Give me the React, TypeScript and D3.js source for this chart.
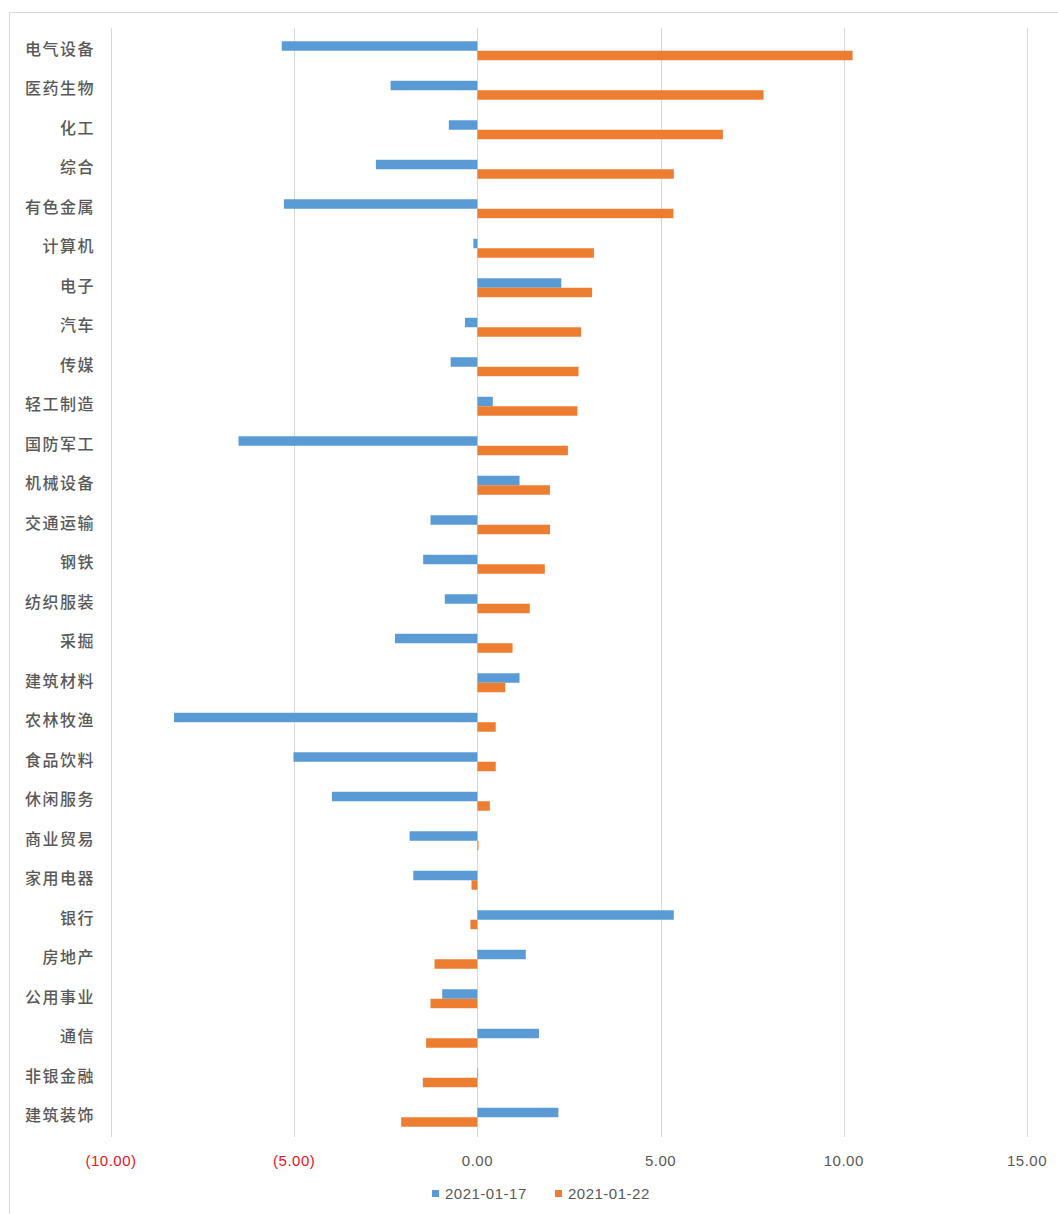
import React, { useEffect, useRef } from "react";
import * as d3 from "d3";

const categories = [
  "电气设备", "医药生物", "化工", "综合", "有色金属", "计算机", "电子", "汽车", "传媒", "轻工制造",
  "国防军工", "机械设备", "交通运输", "钢铁", "纺织服装", "采掘", "建筑材料", "农林牧渔", "食品饮料", "休闲服务",
  "商业贸易", "家用电器", "银行", "房地产", "公用事业", "通信", "非银金融", "建筑装饰",
];

const series1Name = "2021-01-17";
const series2Name = "2021-01-22";

const series1 = [
  -5.34, -2.37, -0.78, -2.77, -5.28, -0.11, 2.29, -0.34, -0.73, 0.42,
  -6.52, 1.15, -1.28, -1.48, -0.89, -2.25, 1.15, -8.28, -5.02, -3.97,
  -1.85, -1.75, 5.36, 1.32, -0.96, 1.68, 0.02, 2.21,
];

const series2 = [
  10.24, 7.81, 6.70, 5.36, 5.35, 3.18, 3.13, 2.83, 2.76, 2.73,
  2.47, 1.98, 1.98, 1.84, 1.43, 0.96, 0.76, 0.50, 0.50, 0.34,
  0.03, -0.16, -0.19, -1.17, -1.28, -1.40, -1.49, -2.08,
];

const tickValues = [-10, -5, 0, 5, 10, 15];

const W = 1058;
const H = 1214;

export default function App() {
  const ref = useRef<SVGSVGElement>(null);

  useEffect(() => {
    const svg = d3.select(ref.current);
    svg.selectAll("*").remove();

    const x = d3.scaleLinear().domain([-10, 15]).range([111, 1027]);
    const y = d3.scaleBand<string>().domain(categories).range([31, 1137]).paddingInner(0.52).paddingOuter(0.26);
    const sub = d3.scaleBand<string>().domain(["a", "b"]).range([0, y.bandwidth()]);

    // outer border
    svg.append("rect")
      .attr("x", 9.5).attr("y", 12.5).attr("width", W).attr("height", H)
      .attr("fill", "#fff").attr("stroke", "#D9D9D9").attr("stroke-width", 1);

    // gridlines
    svg.append("g").selectAll("line").data(tickValues).join("line")
      .attr("x1", (d) => Math.round(x(d)) + 0.5).attr("x2", (d) => Math.round(x(d)) + 0.5)
      .attr("y1", 28).attr("y2", 1137)
      .attr("stroke", "#D9D9D9").attr("stroke-width", 1);

    const colors = ["#5B9BD5", "#ED7D31"];
    const data = [series1, series2];
    data.forEach((vals, si) => {
      svg.append("g").selectAll("rect").data(vals).join("rect")
        .attr("x", (d) => x(Math.min(0, d)))
        .attr("width", (d) => Math.abs(x(d) - x(0)))
        .attr("y", (_d, i) => (y(categories[i]) as number) + (sub(si === 0 ? "a" : "b") as number))
        .attr("height", sub.bandwidth())
        .attr("fill", colors[si]);
    });

    // category labels
    svg.append("g").selectAll("text").data(categories).join("text")
      .attr("x", 95)
      .attr("y", (d) => (y(d) as number) + y.bandwidth() / 2 - 3)
      .attr("text-anchor", "end")
      .attr("dominant-baseline", "central")
      .attr("font-family", "'Noto Sans CJK SC', sans-serif")
      .attr("font-size", 16)
      .attr("font-weight", 500)
      .attr("letter-spacing", 1.5)
      .attr("fill", "#595959")
      .text((d) => d);

    // x tick labels
    const fmt = (v: number) => (v < 0 ? `(${Math.abs(v).toFixed(2)})` : v.toFixed(2));
    svg.append("g").selectAll("text").data(tickValues).join("text")
      .attr("x", (d) => x(d))
      .attr("y", 1160)
      .attr("text-anchor", "middle")
      .attr("dominant-baseline", "central")
      .attr("font-family", "'Liberation Sans', sans-serif")
      .attr("font-size", 15)
      .attr("letter-spacing", 0.5)
      .attr("fill", (d) => (d < 0 ? "#E8141E" : "#595959"))
      .text((d) => fmt(d));

    // legend
    const legend = [
      { name: series1Name, color: colors[0], x: 432 },
      { name: series2Name, color: colors[1], x: 555 },
    ];
    const lg = svg.append("g");
    legend.forEach((l) => {
      lg.append("rect").attr("x", l.x).attr("y", 1190).attr("width", 7).attr("height", 7).attr("fill", l.color);
      lg.append("text")
        .attr("x", l.x + 13).attr("y", 1193.5)
        .attr("dominant-baseline", "central")
        .attr("font-family", "'Liberation Sans', sans-serif")
        .attr("font-size", 15)
        .attr("letter-spacing", 0.5)
        .attr("fill", "#595959")
        .text(l.name);
    });
  }, []);

  return (
    <svg
      ref={ref}
      width={W}
      height={H}
      style={{ position: "absolute", left: 0, top: 0, background: "#fff" }}
    />
  );
}
